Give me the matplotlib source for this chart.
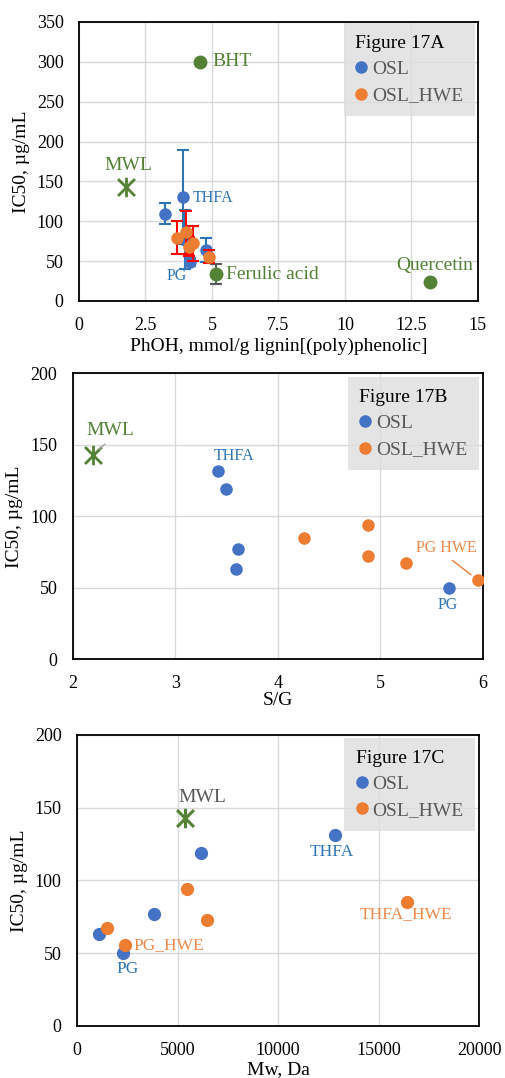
import matplotlib
matplotlib.use("Agg")
import matplotlib.pyplot as plt
from matplotlib.path import Path
from matplotlib.lines import Line2D

plt.rcParams["font.family"] = ["Liberation Serif", "DejaVu Serif"]

# ---------------- data ----------------
# Panel A: IC50 vs phenolic OH content
phoh_osl = [3.90, 3.25, 3.98, 4.79, 4.17]
ic50_osl_a = [131.0, 109.5, 77.0, 63.5, 49.5]
err_osl_a = [59.0, 13.5, 37.0, 15.0, 5.0]

phoh_hwe = [3.69, 4.01, 4.12, 4.29, 4.89]
ic50_hwe_a = [79.5, 86.0, 68.0, 72.5, 55.5]
err_hwe_a = [21.0, 27.0, 12.0, 22.0, 8.0]

ref_names = ["BHT", "Ferulic acid", "Quercetin"]
phoh_ref = [4.54, 5.14, 13.21]
ic50_ref = [300.0, 34.0, 24.0]
err_ref = [0.0, 12.5, 0.0]

phoh_mwl = 1.78

# Panels B and C: IC50 vs S/G ratio and vs Mw
ic50_osl = [131.5, 119.0, 77.0, 63.0, 50.0]
ic50_hwe = [94.0, 85.0, 72.5, 67.0, 55.5]
ic50_mwl = 143.0

sg_osl = [3.42, 3.50, 3.61, 3.59, 5.67]
sg_hwe = [4.88, 4.26, 4.88, 5.25, 5.95]
sg_mwl = 2.2

mw_osl = [12840, 6180, 3830, 1110, 2270]
mw_hwe = [5470, 16400, 6460, 1490, 2390]
mw_mwl = 5370

# sample names for labelled points
THFA_OSL, PG_OSL = 0, 4
THFA_HWE, PG_HWE = 1, 4

# ---------------- style ----------------
BLUE = "#4472C4"
ORANGE = "#ED7D31"
GREEN = "#548235"
BLUE_TXT = "#2E75B6"
ORANGE_TXT = "#F08A4B"
GRID = "#D9D9D9"
GRAY_TXT = "#595959"

star = Path([(-1, -1), (1, 1), (-1, 1), (1, -1), (0, -1.15), (0, 1.15)],
            [Path.MOVETO, Path.LINETO, Path.MOVETO, Path.LINETO,
             Path.MOVETO, Path.LINETO])

fig = plt.figure(figsize=(5.05, 10.78), dpi=100)
axA = fig.add_axes([0.1564, 0.7208, 0.790, 0.2588])
axB = fig.add_axes([0.1440, 0.3884, 0.812, 0.2653])
axC = fig.add_axes([0.1525, 0.0485, 0.7966, 0.2697])


def style(ax, xlim, ylim, xticks, yticks, xticklabels, xlabel, xlabelpad):
    ax.set_xlim(*xlim)
    ax.set_ylim(*ylim)
    ax.set_xticks(xticks)
    ax.set_xticklabels(xticklabels)
    ax.set_yticks(yticks)
    ax.grid(True, color=GRID, linewidth=1.0)
    ax.set_axisbelow(True)
    for s in ax.spines.values():
        s.set_color("black")
        s.set_linewidth(1.3)
    ax.tick_params(length=0, labelsize=13, colors="black")
    ax.tick_params(axis="x", pad=11.5)
    ax.tick_params(axis="y", pad=11)
    ax.set_xlabel(xlabel, fontsize=14, labelpad=xlabelpad)
    ax.set_ylabel("IC50, µg/mL", fontsize=14, labelpad=5)


def legend(ax, title, anchor):
    handles = [
        Line2D([], [], marker="o", linestyle="none", color=BLUE, markersize=8, label="OSL"),
        Line2D([], [], marker="o", linestyle="none", color=ORANGE, markersize=8, label="OSL_HWE"),
    ]
    lg = ax.legend(handles=handles, title=title, loc="upper right",
                   bbox_to_anchor=anchor, fontsize=14, title_fontsize=14,
                   frameon=True, fancybox=False, facecolor="#DEDEDE",
                   framealpha=0.8, edgecolor="none", handlelength=0.6,
                   handletextpad=0.25, labelspacing=0.45, borderpad=0.6,
                   borderaxespad=0, alignment="left")
    for t in lg.get_texts():
        t.set_color(GRAY_TXT)
    lg.get_title().set_color("black")
    return lg


def label(ax, text, xy, off, color, size, ha="center", va="center", line=None):
    kw = {}
    if line is not None:
        kw["arrowprops"] = dict(arrowstyle="-", color=line, lw=1.0,
                                shrinkA=2, shrinkB=6, relpos=(0.5, 0.0))
    ax.annotate(text, xy=xy, xytext=off, textcoords="offset pixels",
                color=color, fontsize=size, ha=ha, va=va, **kw)


# ---------------- Panel A ----------------
style(axA, (0, 15), (0, 350), [0, 2.5, 5, 7.5, 10, 12.5, 15],
      range(0, 351, 50), ["0", "2.5", "5", "7.5", "10", "12.5", "15"],
      "PhOH, mmol/g lignin[(poly)phenolic]", 3)

axA.errorbar(phoh_osl, ic50_osl_a, yerr=err_osl_a, fmt="o", color=BLUE,
             ecolor=BLUE_TXT, elinewidth=1.5, capsize=4, capthick=1.5,
             markersize=8, zorder=3)
axA.errorbar(phoh_hwe, ic50_hwe_a, yerr=err_hwe_a, fmt="o", color=ORANGE,
             ecolor="#FF0000", elinewidth=1.5, capsize=4, capthick=1.5,
             markersize=8, zorder=4)
axA.errorbar(phoh_ref, ic50_ref, yerr=err_ref, fmt="o", color=GREEN,
             ecolor="#595959", elinewidth=1.5, capsize=4, capthick=1.5,
             markersize=9, zorder=3)
axA.plot([phoh_mwl], [ic50_mwl], linestyle="none", marker=star, markersize=14,
         markeredgewidth=2.0, color=GREEN, zorder=3)

label(axA, "BHT", (phoh_ref[0], ic50_ref[0]), (13, 0), GREEN, 14, ha="left")
label(axA, "Ferulic acid", (phoh_ref[1], ic50_ref[1]), (10, -1), GREEN, 14, ha="left")
label(axA, "Quercetin", (phoh_ref[2], ic50_ref[2]), (4, 16), GREEN, 14)
label(axA, "MWL", (phoh_mwl, ic50_mwl), (2, 21), GREEN, 14)
label(axA, "THFA", (phoh_osl[THFA_OSL], ic50_osl_a[THFA_OSL]), (10, -1), BLUE_TXT, 11.5, ha="left")
label(axA, "PG", (phoh_osl[PG_OSL], ic50_osl_a[PG_OSL]), (-13, -14), BLUE_TXT, 11.5)
legend(axA, "Figure 17A", (0.992, 0.996))

# ---------------- Panel B ----------------
style(axB, (2, 6), (0, 200), [2, 3, 4, 5, 6], range(0, 201, 50),
      ["2", "3", "4", "5", "6"], "S/G", 0)
axB.plot(sg_osl, ic50_osl, "o", color=BLUE, markersize=8, zorder=3)
axB.plot(sg_hwe, ic50_hwe, "o", color=ORANGE, markersize=8, zorder=3)
axB.plot([sg_mwl], [ic50_mwl], linestyle="none", marker=star, markersize=14,
         markeredgewidth=2.0, color=GREEN, zorder=3)

label(axB, "MWL", (sg_mwl, ic50_mwl), (-7, 24), GREEN, 14, ha="left", line="#A6A6A6")
label(axB, "THFA", (sg_osl[THFA_OSL], ic50_osl[THFA_OSL]), (16, 15), BLUE_TXT, 11.5)
label(axB, "PG", (sg_osl[PG_OSL], ic50_osl[PG_OSL]), (-1, -17), BLUE_TXT, 11.5)
label(axB, "PG HWE", (sg_hwe[PG_HWE], ic50_hwe[PG_HWE]), (-31, 32), ORANGE_TXT, 11.5, line=ORANGE)
legend(axB, "Figure 17B", (0.9905, 0.987))

# ---------------- Panel C ----------------
style(axC, (0, 20000), (0, 200), range(0, 20001, 5000), range(0, 201, 50),
      ["0", "5000", "10000", "15000", "20000"], "Mw, Da", 2)
axC.plot(mw_osl, ic50_osl, "o", color=BLUE, markersize=8.5, zorder=3)
axC.plot(mw_hwe, ic50_hwe, "o", color=ORANGE, markersize=8.5, zorder=3)
axC.plot([mw_mwl], [ic50_mwl], linestyle="none", marker=star, markersize=14,
         markeredgewidth=2.2, color=GREEN, zorder=3)

label(axC, "MWL", (mw_mwl, ic50_mwl), (17, 20), GRAY_TXT, 14)
label(axC, "THFA", (mw_osl[THFA_OSL], ic50_osl[THFA_OSL]), (-3, -17), BLUE_TXT, 12.5)
label(axC, "PG", (mw_osl[PG_OSL], ic50_osl[PG_OSL]), (5, -16), BLUE_TXT, 12.5)
label(axC, "THFA_HWE", (mw_hwe[THFA_HWE], ic50_hwe[THFA_HWE]), (-1, -12), ORANGE_TXT, 12.5)
label(axC, "PG_HWE", (mw_hwe[PG_HWE], ic50_hwe[PG_HWE]), (8, 0), ORANGE_TXT, 12.5, ha="left")
legend(axC, "Figure 17C", (0.9905, 0.99))

fig.savefig("out.png", dpi=100)
